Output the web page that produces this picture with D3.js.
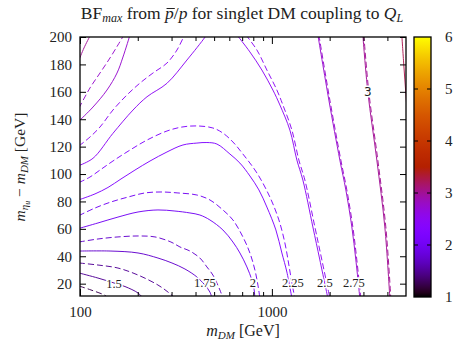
<!DOCTYPE html>
<html><head><meta charset="utf-8">
<script src="https://cdn.jsdelivr.net/npm/d3@7/dist/d3.min.js"></script>
<style>
body{margin:0;background:#fff;}
svg{display:block;}
text{font-family:"Liberation Serif","Times New Roman",serif;fill:#222;}
</style>
</head><body>
<svg id="chart" width="453" height="342"></svg>
<script>
// ---- data (m_DM [GeV], m_eta - m_DM [GeV]) ----
const xTicks = [100, 1000];
const xMinorTicks = [200,300,400,500,600,700,800,900,2000,3000,4000];
const yTicks = [20,40,60,80,100,120,140,160,180,200];
const cbTicks = [1,2,3,4,5,6];

// solid contours
const solid1_5  = [[98.8,27.8],[124.1,24.1],[150.3,20.5],[171.6,17.9],[200.6,13.2],[212.9,9.5]];
const solid1_75 = [[98.8,43.8],[145.0,43.8],[200.6,42.4],[254.9,38.7],[301.4,35.1],[352.3,30.7],[406.6,24.9],[447.6,19.0],[475.3,13.9],[487.0,9.5]];
const solid2    = [[98.8,60.3],[124.1,64.3],[157.7,68.6],[200.6,72.3],[254.9,73.8],[312.5,73.0],[374.1,71.6],[421.5,70.1],[475.3,66.5],[555.4,59.2],[626.4,50.4],[681.4,42.4],[741.0,32.2],[786.8,22.7],[805.9,16.8],[815.7,9.5]];
const solid2_25 = [[98.8,81.2],[119.7,85.5],[139.9,90.2],[163.5,96.4],[193.4,102.9],[231.7,109.5],[283.9,116.1],[343.9,121.2],[406.6,122.6],[458.6,123.0],[517.0,121.9],[604.3,114.6],[681.4,108.0],[768.2,98.6],[855.8,88.4],[941.8,75.9],[1049.1,59.2],[1127.5,42.4],[1197.2,28.5],[1271.2,9.5]];
const solid2_5a = [[98.8,106.2],[116.9,111.5],[148.5,129.7],[188.9,146.7],[223.5,156.4],[283.9,166.2],[360.9,183.2],[447.6,199.8],[458.6,202.2]];
const solid2_5b = [[657.3,201.5],[768.2,189.1],[887.0,175.9],[1012.1,161.3],[1100.7,150.4],[1241.0,132.1],[1349.8,110.2],[1450.5,95.6],[1635.4,61.4],[1778.6,37.3],[1957.5,9.5]];
const solid2_75a = [[98.8,138.7],[116.9,148.9],[138.2,161.3],[155.9,173.7],[167.5,185.4],[182.2,201.5]];
const solid2_75b = [[1736.6,201.5],[1981.2,154.0],[2260.6,110.2],[2429.2,88.4],[2610.5,61.4],[2738.9,37.3],[2873.1,9.5]];
const solid3a = [[98.8,183.2],[104.9,192.0],[112.7,200.7]];
const solid3b = [[2978.7,201.5],[3162.3,159.9],[3523.2,110.2],[3878.1,61.4],[4117.6,9.5]];
const solid3_25 = [[4755,201.5],[4870,179.6],[4988,159.2],[5109,139.4]];

// dashed contours
const dashed1_25 = [[98.8,18.3],[114.1,15.4],[135.0,11.4],[139.9,9.5]];
const dashed1_5  = [[98.8,35.1],[124.1,33.6],[157.7,31.4],[200.6,26.3],[254.9,19.0],[287.3,13.9],[312.5,9.5]];
const dashed1_75 = [[98.8,50.4],[124.1,52.6],[157.7,54.1],[200.6,54.8],[245.9,54.1],[297.8,50.4],[331.7,46.8],[374.1,43.8],[421.5,38.7],[458.6,32.2],[492.7,26.3],[535.9,15.4],[555.4,9.5]];
const dashed2    = [[98.8,69.7],[119.7,75.2],[145.0,79.6],[177.9,83.2],[218.1,86.2],[264.2,86.9],[323.8,86.2],[406.6,84.7],[475.3,81.1],[555.4,73.8],[626.4,66.5],[706.3,54.1],[768.2,42.4],[815.7,30.0],[845.6,19.0],[866.1,9.5]];
const dashed2_25 = [[98.8,93.8],[112.7,97.8],[127.1,102.9],[148.5,109.5],[182.2,117.5],[223.5,124.8],[283.9,131.4],[339.8,134.3],[406.6,135.1],[492.7,133.6],[555.4,129.9],[626.4,123.4],[706.3,114.6],[835.5,100.8],[976.3,83.2],[1087.6,66.5],[1168.8,49.7],[1226.3,33.6],[1271.2,20.5],[1317.8,9.5]];
const dashed2_5a = [[98.8,120.5],[112.7,127.0],[127.1,134.3],[148.5,146.7],[175.7,157.7],[205.5,166.4],[240.0,173.7],[283.9,181.0],[320.1,190.5],[352.3,202.2]];
const dashed2_5b = [[732.1,201.5],[835.5,190.5],[941.8,175.9],[1061.8,161.3],[1141.1,150.4],[1271.2,132.1],[1382.6,110.2],[1485.8,95.6],[1675.1,61.4],[1821.8,37.3],[2005.2,9.5]];
const dashed2_75a = [[98.8,148.2],[112.7,162.8],[127.1,173.7],[143.3,184.7],[157.7,194.2],[169.5,201.5]];
const dashed2_75b = [[1757.5,201.5],[2005.2,154.0],[2287.9,110.2],[2458.5,88.4],[2642.0,61.4],[2771.9,37.3],[2907.9,9.5]];
const dashed3b = [[3014.7,201.5],[3200.5,159.9],[3565.7,110.2],[3924.9,61.4],[4167.3,9.5]];

const solidLevels  = [1.5, 1.75, 2, 2.25, 2.5, 2.5, 2.75, 2.75, 3, 3, 3.25];
const solidLines   = [solid1_5, solid1_75, solid2, solid2_25, solid2_5a, solid2_5b, solid2_75a, solid2_75b, solid3a, solid3b, solid3_25];
const dashedLevels = [1.25, 1.5, 1.75, 2, 2.25, 2.5, 2.5, 2.75, 2.75, 3];
const dashedLines  = [dashed1_25, dashed1_5, dashed1_75, dashed2, dashed2_25, dashed2_5a, dashed2_5b, dashed2_75a, dashed2_75b, dashed3b];

// contour labels
const labelText = ["1.5","1.75","2","2.25","2.5","2.75","3"];
const labelX    = [150.3, 447.6, 796.3, 1286.5, 1888.6, 2674.1, 3162.3];
const labelY    = [19.8, 20.5, 20.5, 20.5, 20.5, 20.5, 159.9];

// ---- layout ----
const svg = d3.select("#chart");
const L = 80, R = 406, T = 37, B = 296;
const x = d3.scaleLog().domain([100, 5000]).range([L, R]);
const y = d3.scaleLinear().domain([11, 200]).range([B, T]);
const cb = d3.scaleLinear().domain([1, 6]).range([297, 37]);

function pal(v){
  const t = Math.max(0, Math.min(1, (v-1)/5));
  const c = u => Math.round(255*Math.max(0, Math.min(1, u)));
  return `rgb(${c(Math.sqrt(t))},${c(t*t*t)},${c(Math.sin(2*Math.PI*t))})`;
}

const defs = svg.append("defs");
defs.append("clipPath").attr("id","clip").append("rect")
  .attr("x",L).attr("y",T).attr("width",R-L).attr("height",B-T);
const grad = defs.append("linearGradient").attr("id","cbgrad")
  .attr("x1",0).attr("y1",1).attr("x2",0).attr("y2",0);
for (let i=0;i<=60;i++){
  const v = 1 + 5*i/60;
  grad.append("stop").attr("offset", (i/60)).attr("stop-color", pal(v));
}

const line = d3.line().x(d=>x(d[0])).y(d=>y(d[1])).curve(d3.curveCatmullRom.alpha(0.5));
const plot = svg.append("g").attr("clip-path","url(#clip)");

dashedLines.forEach((pts,i)=>{
  plot.append("path").attr("d", line(pts)).attr("fill","none")
    .attr("stroke", pal(dashedLevels[i])).attr("stroke-width",0.95)
    .attr("stroke-dasharray","6,3");
});
solidLines.forEach((pts,i)=>{
  plot.append("path").attr("d", line(pts)).attr("fill","none")
    .attr("stroke", pal(solidLevels[i])).attr("stroke-width",0.95);
});

// contour labels
labelText.forEach((t,i)=>{
  svg.append("text").attr("x", x(labelX[i])).attr("y", y(labelY[i]))
    .attr("text-anchor","middle").attr("dy","0.35em")
    .attr("font-size", i===6 ? 12 : 12.5)
    .style("font-family", i===6 ? "'DejaVu Sans',sans-serif" : null)
    .attr("fill", i===6 ? "#777" : "#555").attr("stroke","#fff").attr("stroke-width",3)
    .attr("paint-order","stroke").text(t);
});

// axes
const fs = 15;
const gx = svg.append("g").attr("transform",`translate(0,${B})`)
  .call(d3.axisBottom(x).tickValues(xTicks).tickFormat(d3.format("d")).tickSize(-7).tickPadding(10));
const gxm = svg.append("g").attr("transform",`translate(0,${B})`)
  .call(d3.axisBottom(x).tickValues(xMinorTicks).tickFormat("").tickSize(-4));
const gxt = svg.append("g").attr("transform",`translate(0,${T})`)
  .call(d3.axisTop(x).tickValues(xTicks).tickFormat("").tickSize(-7));
const gxtm = svg.append("g").attr("transform",`translate(0,${T})`)
  .call(d3.axisTop(x).tickValues(xMinorTicks).tickFormat("").tickSize(-4));
const gy = svg.append("g").attr("transform",`translate(${L},0)`)
  .call(d3.axisLeft(y).tickValues(yTicks).tickSize(-6).tickPadding(8));
const gyr = svg.append("g").attr("transform",`translate(${R},0)`)
  .call(d3.axisRight(y).tickValues(yTicks).tickFormat("").tickSize(-6));
[gx,gxm,gxt,gxtm,gy,gyr].forEach(g=>{
  g.select(".domain").remove();
  g.selectAll("line").attr("stroke","#000").attr("stroke-width",1);
  g.selectAll("text").attr("font-size",fs).style("font-family","'Liberation Serif',serif").attr("fill","#222");
});

// frame
svg.append("rect").attr("x",L).attr("y",T).attr("width",R-L).attr("height",B-T)
  .attr("fill","none").attr("stroke","#000").attr("stroke-width",1.3);

// colorbar
const cbL = 414, cbW = 17;
svg.append("rect").attr("x",cbL).attr("y",cb(6)).attr("width",cbW).attr("height",cb(1)-cb(6))
  .attr("fill","url(#cbgrad)");
const gcb = svg.append("g");
cbTicks.slice(1,-1).forEach(v=>{
  gcb.append("line").attr("x1",cbL).attr("x2",cbL+4).attr("y1",cb(v)).attr("y2",cb(v)).attr("stroke","#000");
  gcb.append("line").attr("x1",cbL+cbW-4).attr("x2",cbL+cbW).attr("y1",cb(v)).attr("y2",cb(v)).attr("stroke","#000");
});
cbTicks.forEach(v=>{
  svg.append("text").attr("x",445).attr("y",cb(v)).attr("dy","0.32em")
    .attr("font-size",fs).text(v);
});
svg.append("rect").attr("x",cbL).attr("y",cb(6)).attr("width",cbW).attr("height",cb(1)-cb(6))
  .attr("fill","none").attr("stroke","#000").attr("stroke-width",1.3);

// title
const title = svg.append("text").attr("x",242).attr("y",19).attr("text-anchor","middle").attr("font-size",17.5);
title.append("tspan").text("BF");
title.append("tspan").attr("dy",3).attr("font-size",12).attr("font-style","italic").text("max");
title.append("tspan").attr("dy",-3).text(" from ");
title.append("tspan").attr("font-style","italic").text("p");
title.append("tspan").text("/");
title.append("tspan").attr("font-style","italic").text("p");
title.append("tspan").text(" for singlet DM coupling to ");
title.append("tspan").attr("font-style","italic").text("Q");
title.append("tspan").attr("dy",3).attr("font-size",12).attr("font-style","italic").text("L");
// bar over the first p (index 11 in the text content)
(function(){
  const n = title.node();
  const s = n.getStartPositionOfChar(11), e = n.getEndPositionOfChar(11);
  svg.append("line").attr("x1", s.x + 1.5).attr("x2", e.x + 1).attr("y1", s.y - 10.5).attr("y2", s.y - 10.5)
    .attr("stroke","#222").attr("stroke-width",1);
})();

// x label
const xl = svg.append("text").attr("x",243).attr("y",336).attr("text-anchor","middle").attr("font-size",16);
xl.append("tspan").attr("font-style","italic").text("m");
xl.append("tspan").attr("dy",3).attr("font-size",11).attr("font-style","italic").text("DM");
xl.append("tspan").attr("dy",-3).text(" [GeV]");

// y label
const yl = svg.append("text").attr("transform","translate(25,167) rotate(-90)").attr("text-anchor","middle").attr("font-size",15.5);
yl.append("tspan").attr("font-style","italic").text("m");
yl.append("tspan").attr("dy",3).attr("font-size",11).attr("font-style","italic").text("\u03b7");
yl.append("tspan").attr("dy",2).attr("font-size",8).attr("font-style","italic").text("u");
yl.append("tspan").attr("dy",-5).text(" \u2212 ");
yl.append("tspan").attr("font-style","italic").text("m");
yl.append("tspan").attr("dy",3).attr("font-size",11).attr("font-style","italic").text("DM");
yl.append("tspan").attr("dy",-3).text(" [GeV]");
</script>
</body></html>
